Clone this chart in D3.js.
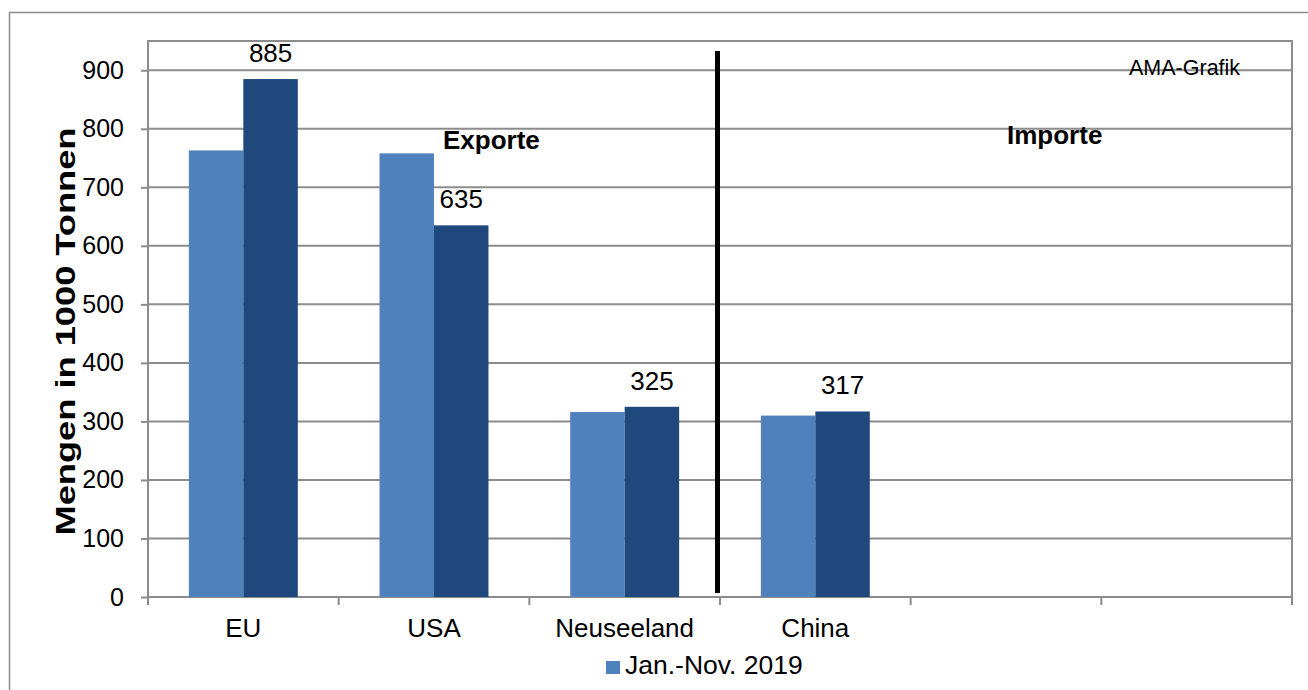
<!DOCTYPE html>
<html>
<head>
<meta charset="utf-8">
<script src="https://cdn.jsdelivr.net/npm/d3@7"></script>
<style>
  body { margin: 0; background: #fff; }
  svg { display: block; font-family: "Liberation Sans", Arial, sans-serif; }
</style>
</head>
<body>
<svg id="chart"></svg>
<script>
// data
const categories = ["EU", "USA", "Neuseeland", "China", "", " "];
const seriesNames = ["Jan.-Nov. 2019", "Jan.-Nov. 2020"];
const values2019 = [763, 758, 316, 310, null, null];
const values2020 = [885, 635, 325, 317, null, null];
const legendItems = ["Jan.-Nov. 2019"];
const yTicks = [0, 100, 200, 300, 400, 500, 600, 700, 800, 900];
const colors = ["#4f81bd", "#1f497d"];

const width = 1308, height = 690;
const margin = {top: 41, right: 16, bottom: 93, left: 148};

const svg = d3.select("#chart")
    .attr("width", width)
    .attr("height", height);

// outer chart frame
svg.append("rect")
    .attr("x", 9.5).attr("y", 12.5)
    .attr("width", width + 20).attr("height", height + 20)
    .attr("fill", "none")
    .attr("stroke", "#8c8c8c")
    .attr("stroke-width", 1.5);

const x0 = d3.scaleBand()
    .domain(categories)
    .range([margin.left, width - margin.right]);

const x1 = d3.scaleBand()
    .domain(seriesNames)
    .range([0, x0.bandwidth()])
    .paddingOuter(0.75);

const y = d3.scaleLinear()
    .domain([0, 950])
    .range([height - margin.bottom, margin.top]);

// gridlines
svg.append("g")
  .selectAll("line")
  .data(yTicks.slice(1))
  .join("line")
    .attr("x1", margin.left).attr("x2", width - margin.right)
    .attr("y1", d => y(d)).attr("y2", d => y(d))
    .attr("stroke", "#8c8c8c")
    .attr("stroke-width", 2);

// plot box
svg.append("rect")
    .attr("x", margin.left).attr("y", margin.top)
    .attr("width", width - margin.right - margin.left)
    .attr("height", y(0) - margin.top)
    .attr("fill", "none")
    .attr("stroke", "#8c8c8c")
    .attr("stroke-width", 2);

// bars
const rows = categories.map((c, i) => ({cat: c, vals: [values2019[i], values2020[i]]}));

const groups = svg.append("g")
  .selectAll("g")
  .data(rows)
  .join("g")
    .attr("transform", d => `translate(${x0(d.cat)},0)`);

groups.selectAll("rect")
  .data(d => d.vals.map((v, j) => ({name: seriesNames[j], v: v, j: j})).filter(d => d.v != null))
  .join("rect")
    .attr("x", d => x1(d.name))
    .attr("width", x1.bandwidth())
    .attr("y", d => y(d.v))
    .attr("height", d => y(0) - y(d.v))
    .attr("fill", d => colors[d.j]);

// data labels (second series only)
groups.selectAll("text.lbl")
  .data(d => d.vals[1] != null ? [d.vals[1]] : [])
  .join("text")
    .attr("class", "lbl")
    .attr("x", x1(seriesNames[1]) + x1.bandwidth() / 2)
    .attr("y", d => y(d) - 17)
    .attr("text-anchor", "middle")
    .attr("font-size", 26)
    .text(d => d);

// y axis
const yAxis = svg.append("g")
    .attr("transform", `translate(${margin.left},0)`)
    .call(d3.axisLeft(y).tickValues(yTicks).tickSize(7).tickPadding(17))
    .call(g => g.select(".domain").remove());
yAxis.selectAll("line").attr("stroke", "#8c8c8c").attr("stroke-width", 2);
yAxis.selectAll("text")
    .attr("font-size", 25)
    .attr("font-family", "Liberation Sans, Arial, sans-serif")
    .attr("fill", "#000");

// x axis ticks at band boundaries
svg.append("g")
  .selectAll("line")
  .data(categories.map(c => x0(c)).concat([width - margin.right]))
  .join("line")
    .attr("x1", d => d).attr("x2", d => d)
    .attr("y1", y(0)).attr("y2", y(0) + 8)
    .attr("stroke", "#8c8c8c")
    .attr("stroke-width", 2);

svg.append("g")
  .selectAll("text")
  .data(categories)
  .join("text")
    .attr("x", d => x0(d) + x0.bandwidth() / 2)
    .attr("y", y(0) + 40)
    .attr("text-anchor", "middle")
    .attr("font-size", 26)
    .text(d => d);

// divider between exports and imports
svg.append("line")
    .attr("x1", x0("China") - 2.5).attr("x2", x0("China") - 2.5)
    .attr("y1", 51).attr("y2", y(0) - 4)
    .attr("stroke", "#000")
    .attr("stroke-width", 5);

// annotations
svg.append("text")
    .attr("x", 443).attr("y", 149)
    .attr("font-size", 26).attr("font-weight", "bold")
    .text("Exporte");

svg.append("text")
    .attr("x", 1007).attr("y", 144)
    .attr("font-size", 26).attr("font-weight", "bold")
    .text("Importe");

svg.append("text")
    .attr("x", 1129).attr("y", 75)
    .attr("font-size", 21.5)
    .text("AMA-Grafik");

// y title
svg.append("text")
    .attr("transform", `translate(75,${(125 + 538) / 2}) rotate(-90)`)
    .attr("text-anchor", "middle")
    .attr("font-size", 27)
    .attr("font-weight", "bold")
    .attr("textLength", 408)
    .attr("lengthAdjust", "spacingAndGlyphs")
    .text("Mengen in 1000 Tonnen");

// legend
const legend = svg.append("g")
    .attr("transform", "translate(606,661)");
legend.selectAll("rect")
  .data(legendItems)
  .join("rect")
    .attr("width", 14).attr("height", 13)
    .attr("fill", colors[0]);
legend.selectAll("text")
  .data(legendItems)
  .join("text")
    .attr("x", 19).attr("y", 13)
    .attr("font-size", 26.5)
    .text(d => d);
</script>
</body>
</html>
